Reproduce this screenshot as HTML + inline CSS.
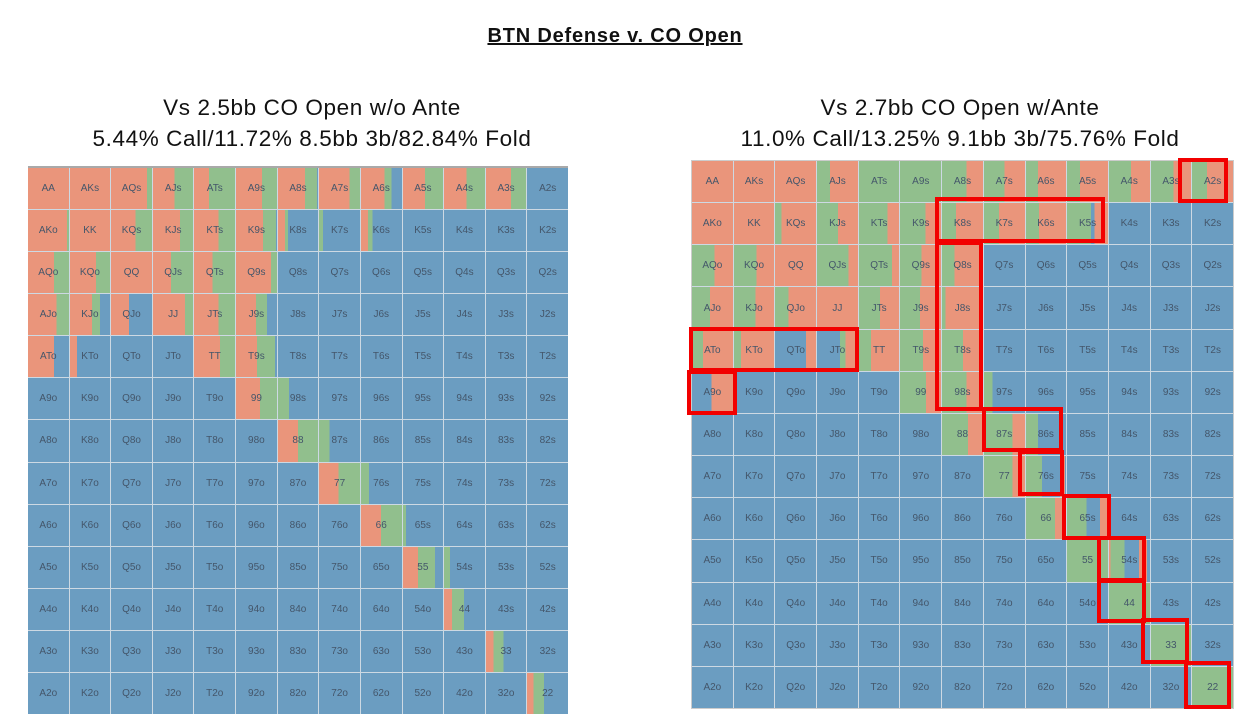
<!DOCTYPE html>
<html><head><meta charset="utf-8"><style>
:root{--r:#ea957b;--g:#91bf8d;--b:#6b9dc1}
body{margin:0;width:1250px;height:709px;background:#fff;position:relative;overflow:hidden;font-family:"Liberation Sans",sans-serif}
.t{position:absolute;left:0;width:1230px;text-align:center;top:25px;font-size:20px;font-weight:bold;text-decoration:underline;color:#111;letter-spacing:0.8px}
.s{position:absolute;text-align:center;font-size:22.5px;line-height:31px;color:#111;width:600px;letter-spacing:0.6px}
.grid{position:absolute;display:grid;grid-template-columns:repeat(13,1fr);grid-template-rows:repeat(13,1fr);gap:1px;background:#cdd9e3}
.grid div{background:var(--b);display:flex;align-items:center;justify-content:center;font-size:10px;color:#44566a}
.grid div.r{background:var(--r)}.grid div.g{background:var(--g)}
#L{left:28px;top:166px;width:540px;height:546px;border-top:2px solid #a9a9a9}
#R{left:691px;top:160px;width:541px;height:547px;border:1px solid #ccc}
.bx{position:absolute;border:4px solid #f20000;box-sizing:border-box}
</style></head><body>
<div class="t">BTN Defense v. CO Open</div>
<div class="s" style="left:12px;top:92px">Vs 2.5bb CO Open w/o Ante<br>5.44% Call/11.72% 8.5bb 3b/82.84% Fold</div>
<div class="s" style="left:660px;top:92px">Vs 2.7bb CO Open w/Ante<br>11.0% Call/13.25% 9.1bb 3b/75.76% Fold</div>

<div class="grid" id="L">
<div class="r">AA</div><div class="r">AKs</div><div style="background:linear-gradient(90deg,var(--r) 88%,var(--g) 0)">AQs</div><div style="background:linear-gradient(90deg,var(--r) 54%,var(--g) 0)">AJs</div><div style="background:linear-gradient(90deg,var(--r) 37%,var(--g) 0)">ATs</div><div style="background:linear-gradient(90deg,var(--r) 63%,var(--g) 0)">A9s</div><div style="background:linear-gradient(90deg,var(--r) 68%,var(--g) 0 97%,var(--b) 0)">A8s</div><div style="background:linear-gradient(90deg,var(--r) 74%,var(--g) 0)">A7s</div><div style="background:linear-gradient(90deg,var(--r) 57%,var(--g) 0 74%,var(--b) 0)">A6s</div><div style="background:linear-gradient(90deg,var(--r) 55%,var(--g) 0)">A5s</div><div style="background:linear-gradient(90deg,var(--r) 55%,var(--g) 0)">A4s</div><div style="background:linear-gradient(90deg,var(--r) 62%,var(--g) 0)">A3s</div><div>A2s</div>
<div style="background:linear-gradient(90deg,var(--r) 95%,var(--g) 0)">AKo</div><div class="r">KK</div><div style="background:linear-gradient(90deg,var(--r) 60%,var(--g) 0)">KQs</div><div style="background:linear-gradient(90deg,var(--r) 67%,var(--g) 0)">KJs</div><div style="background:linear-gradient(90deg,var(--r) 60%,var(--g) 0)">KTs</div><div style="background:linear-gradient(90deg,var(--r) 66%,var(--g) 0 97%,var(--b) 0)">K9s</div><div style="background:linear-gradient(90deg,var(--r) 17%,var(--g) 0 25%,var(--b) 0)">K8s</div><div style="background:linear-gradient(90deg,var(--g) 10%,var(--b) 0)">K7s</div><div style="background:linear-gradient(90deg,var(--r) 17%,var(--g) 0 28%,var(--b) 0)">K6s</div><div>K5s</div><div>K4s</div><div>K3s</div><div>K2s</div>
<div style="background:linear-gradient(90deg,var(--r) 63%,var(--g) 0)">AQo</div><div style="background:linear-gradient(90deg,var(--r) 65%,var(--g) 0)">KQo</div><div class="r">QQ</div><div style="background:linear-gradient(90deg,var(--r) 45%,var(--g) 0)">QJs</div><div style="background:linear-gradient(90deg,var(--r) 45%,var(--g) 0)">QTs</div><div style="background:linear-gradient(90deg,var(--r) 85%,var(--g) 0)">Q9s</div><div>Q8s</div><div>Q7s</div><div>Q6s</div><div>Q5s</div><div>Q4s</div><div>Q3s</div><div>Q2s</div>
<div style="background:linear-gradient(90deg,var(--r) 70%,var(--g) 0)">AJo</div><div style="background:linear-gradient(90deg,var(--r) 55%,var(--g) 0 75%,var(--b) 0)">KJo</div><div style="background:linear-gradient(90deg,var(--r) 44%,var(--b) 0)">QJo</div><div style="background:linear-gradient(90deg,var(--r) 80%,var(--g) 0)">JJ</div><div style="background:linear-gradient(90deg,var(--r) 60%,var(--g) 0)">JTs</div><div style="background:linear-gradient(90deg,var(--r) 49%,var(--g) 0 76%,var(--b) 0)">J9s</div><div>J8s</div><div>J7s</div><div>J6s</div><div>J5s</div><div>J4s</div><div>J3s</div><div>J2s</div>
<div style="background:linear-gradient(90deg,var(--r) 63%,var(--b) 0)">ATo</div><div style="background:linear-gradient(90deg,var(--r) 17%,var(--b) 0)">KTo</div><div>QTo</div><div>JTo</div><div style="background:linear-gradient(90deg,var(--r) 63%,var(--g) 0)">TT</div><div style="background:linear-gradient(90deg,var(--r) 51%,var(--g) 0 95%,var(--b) 0)">T9s</div><div>T8s</div><div>T7s</div><div>T6s</div><div>T5s</div><div>T4s</div><div>T3s</div><div>T2s</div>
<div>A9o</div><div>K9o</div><div>Q9o</div><div>J9o</div><div>T9o</div><div style="background:linear-gradient(90deg,var(--r) 58%,var(--g) 0)">99</div><div style="background:linear-gradient(90deg,var(--g) 27%,var(--b) 0)">98s</div><div>97s</div><div>96s</div><div>95s</div><div>94s</div><div>93s</div><div>92s</div>
<div>A8o</div><div>K8o</div><div>Q8o</div><div>J8o</div><div>T8o</div><div>98o</div><div style="background:linear-gradient(90deg,var(--r) 50%,var(--g) 0)">88</div><div style="background:linear-gradient(90deg,var(--g) 25%,var(--b) 0)">87s</div><div>86s</div><div>85s</div><div>84s</div><div>83s</div><div>82s</div>
<div>A7o</div><div>K7o</div><div>Q7o</div><div>J7o</div><div>T7o</div><div>97o</div><div>87o</div><div style="background:linear-gradient(90deg,var(--r) 47%,var(--g) 0)">77</div><div style="background:linear-gradient(90deg,var(--g) 20%,var(--b) 0)">76s</div><div>75s</div><div>74s</div><div>73s</div><div>72s</div>
<div>A6o</div><div>K6o</div><div>Q6o</div><div>J6o</div><div>T6o</div><div>96o</div><div>86o</div><div>76o</div><div style="background:linear-gradient(90deg,var(--r) 49%,var(--g) 0)">66</div><div style="background:linear-gradient(90deg,var(--g) 8%,var(--b) 0)">65s</div><div>64s</div><div>63s</div><div>62s</div>
<div>A5o</div><div>K5o</div><div>Q5o</div><div>J5o</div><div>T5o</div><div>95o</div><div>85o</div><div>75o</div><div>65o</div><div style="background:linear-gradient(90deg,var(--r) 38%,var(--g) 0 80%,var(--b) 0)">55</div><div style="background:linear-gradient(90deg,var(--g) 15%,var(--b) 0)">54s</div><div>53s</div><div>52s</div>
<div>A4o</div><div>K4o</div><div>Q4o</div><div>J4o</div><div>T4o</div><div>94o</div><div>84o</div><div>74o</div><div>64o</div><div>54o</div><div style="background:linear-gradient(90deg,var(--r) 20%,var(--g) 0 49%,var(--b) 0)">44</div><div>43s</div><div>42s</div>
<div>A3o</div><div>K3o</div><div>Q3o</div><div>J3o</div><div>T3o</div><div>93o</div><div>83o</div><div>73o</div><div>63o</div><div>53o</div><div>43o</div><div style="background:linear-gradient(90deg,var(--r) 19%,var(--g) 0 44%,var(--b) 0)">33</div><div>32s</div>
<div>A2o</div><div>K2o</div><div>Q2o</div><div>J2o</div><div>T2o</div><div>92o</div><div>82o</div><div>72o</div><div>62o</div><div>52o</div><div>42o</div><div>32o</div><div style="background:linear-gradient(90deg,var(--r) 16%,var(--g) 0 42%,var(--b) 0)">22</div>
</div>

<div class="grid" id="R">
<div class="r">AA</div><div class="r">AKs</div><div class="r">AQs</div><div style="background:linear-gradient(90deg,var(--g) 32%,var(--r) 0)">AJs</div><div class="g">ATs</div><div class="g">A9s</div><div style="background:linear-gradient(90deg,var(--g) 60%,var(--r) 0)">A8s</div><div style="background:linear-gradient(90deg,var(--g) 50%,var(--r) 0)">A7s</div><div style="background:linear-gradient(90deg,var(--g) 30%,var(--r) 0)">A6s</div><div style="background:linear-gradient(90deg,var(--g) 32%,var(--r) 0)">A5s</div><div style="background:linear-gradient(90deg,var(--g) 54%,var(--r) 0)">A4s</div><div style="background:linear-gradient(90deg,var(--g) 56%,var(--r) 0)">A3s</div><div style="background:linear-gradient(90deg,var(--g) 36%,var(--r) 0)">A2s</div>
<div class="r">AKo</div><div class="r">KK</div><div style="background:linear-gradient(90deg,var(--g) 16%,var(--r) 0)">KQs</div><div style="background:linear-gradient(90deg,var(--g) 51%,var(--r) 0)">KJs</div><div style="background:linear-gradient(90deg,var(--g) 71%,var(--r) 0)">KTs</div><div style="background:linear-gradient(90deg,var(--g) 62%,var(--r) 0)">K9s</div><div style="background:linear-gradient(90deg,var(--g) 34%,var(--r) 0)">K8s</div><div style="background:linear-gradient(90deg,var(--g) 37%,var(--r) 0)">K7s</div><div style="background:linear-gradient(90deg,var(--g) 32%,var(--r) 0)">K6s</div><div style="background:linear-gradient(90deg,var(--g) 58%,var(--b) 0 67%,var(--r) 0)">K5s</div><div>K4s</div><div>K3s</div><div>K2s</div>
<div style="background:linear-gradient(90deg,var(--g) 55%,var(--r) 0)">AQo</div><div style="background:linear-gradient(90deg,var(--g) 56%,var(--r) 0)">KQo</div><div class="r">QQ</div><div style="background:linear-gradient(90deg,var(--g) 77%,var(--r) 0)">QJs</div><div style="background:linear-gradient(90deg,var(--g) 82%,var(--r) 0)">QTs</div><div style="background:linear-gradient(90deg,var(--g) 53%,var(--r) 0)">Q9s</div><div style="background:linear-gradient(90deg,var(--g) 30%,var(--r) 0)">Q8s</div><div>Q7s</div><div>Q6s</div><div>Q5s</div><div>Q4s</div><div>Q3s</div><div>Q2s</div>
<div style="background:linear-gradient(90deg,var(--g) 44%,var(--r) 0)">AJo</div><div style="background:linear-gradient(90deg,var(--g) 54%,var(--r) 0)">KJo</div><div style="background:linear-gradient(90deg,var(--g) 33%,var(--r) 0)">QJo</div><div class="r">JJ</div><div style="background:linear-gradient(90deg,var(--g) 52%,var(--r) 0)">JTs</div><div style="background:linear-gradient(90deg,var(--g) 49%,var(--r) 0)">J9s</div><div style="background:linear-gradient(90deg,var(--g) 9%,var(--r) 0)">J8s</div><div>J7s</div><div>J6s</div><div>J5s</div><div>J4s</div><div>J3s</div><div>J2s</div>
<div style="background:linear-gradient(90deg,var(--g) 27%,var(--r) 0)">ATo</div><div style="background:linear-gradient(90deg,var(--g) 18%,var(--r) 0)">KTo</div><div style="background:linear-gradient(90deg,var(--b) 75%,var(--r) 0)">QTo</div><div style="background:linear-gradient(90deg,var(--b) 56%,var(--g) 0 70%,var(--r) 0)">JTo</div><div style="background:linear-gradient(90deg,var(--g) 30%,var(--r) 0)">TT</div><div style="background:linear-gradient(90deg,var(--g) 56%,var(--r) 0)">T9s</div><div style="background:linear-gradient(90deg,var(--g) 51%,var(--r) 0)">T8s</div><div>T7s</div><div>T6s</div><div>T5s</div><div>T4s</div><div>T3s</div><div>T2s</div>
<div style="background:linear-gradient(90deg,var(--b) 47%,var(--r) 0)">A9o</div><div>K9o</div><div>Q9o</div><div>J9o</div><div>T9o</div><div style="background:linear-gradient(90deg,var(--g) 64%,var(--r) 0)">99</div><div style="background:linear-gradient(90deg,var(--g) 60%,var(--r) 0)">98s</div><div style="background:linear-gradient(90deg,var(--g) 21%,var(--b) 0)">97s</div><div>96s</div><div>95s</div><div>94s</div><div>93s</div><div>92s</div>
<div>A8o</div><div>K8o</div><div>Q8o</div><div>J8o</div><div>T8o</div><div>98o</div><div style="background:linear-gradient(90deg,var(--g) 64%,var(--r) 0)">88</div><div style="background:linear-gradient(90deg,var(--g) 69%,var(--r) 0)">87s</div><div style="background:linear-gradient(90deg,var(--g) 30%,var(--b) 0)">86s</div><div>85s</div><div>84s</div><div>83s</div><div>82s</div>
<div>A7o</div><div>K7o</div><div>Q7o</div><div>J7o</div><div>T7o</div><div>97o</div><div>87o</div><div style="background:linear-gradient(90deg,var(--g) 70%,var(--r) 0)">77</div><div style="background:linear-gradient(90deg,var(--g) 40%,var(--b) 0 85%,var(--r) 0 97%,var(--b) 0)">76s</div><div>75s</div><div>74s</div><div>73s</div><div>72s</div>
<div>A6o</div><div>K6o</div><div>Q6o</div><div>J6o</div><div>T6o</div><div>96o</div><div>86o</div><div>76o</div><div style="background:linear-gradient(90deg,var(--g) 73%,var(--r) 0)">66</div><div style="background:linear-gradient(90deg,var(--g) 47%,var(--b) 0 81%,var(--r) 0 97%,var(--b) 0)">65s</div><div>64s</div><div>63s</div><div>62s</div>
<div>A5o</div><div>K5o</div><div>Q5o</div><div>J5o</div><div>T5o</div><div>95o</div><div>85o</div><div>75o</div><div>65o</div><div class="g">55</div><div style="background:linear-gradient(90deg,var(--r) 4%,var(--g) 0 38%,var(--b) 0 73%,var(--r) 0 93%,var(--b) 0)">54s</div><div>53s</div><div>52s</div>
<div>A4o</div><div>K4o</div><div>Q4o</div><div>J4o</div><div>T4o</div><div>94o</div><div>84o</div><div>74o</div><div>64o</div><div>54o</div><div class="g">44</div><div>43s</div><div>42s</div>
<div>A3o</div><div>K3o</div><div>Q3o</div><div>J3o</div><div>T3o</div><div>93o</div><div>83o</div><div>73o</div><div>63o</div><div>53o</div><div>43o</div><div class="g">33</div><div>32s</div>
<div>A2o</div><div>K2o</div><div>Q2o</div><div>J2o</div><div>T2o</div><div>92o</div><div>82o</div><div>72o</div><div>62o</div><div>52o</div><div>42o</div><div>32o</div><div class="g">22</div>
</div>

<div class="bx" style="left:1178px;top:158px;width:50px;height:45px"></div>
<div class="bx" style="left:935px;top:197px;width:170px;height:46px"></div>
<div class="bx" style="left:935px;top:241px;width:48px;height:170px"></div>
<div class="bx" style="left:689px;top:327px;width:170px;height:45px"></div>
<div class="bx" style="left:687px;top:370px;width:50px;height:45px"></div>
<div class="bx" style="left:982px;top:407px;width:81px;height:45px"></div>
<div class="bx" style="left:1018px;top:450px;width:46px;height:46px"></div>
<div class="bx" style="left:1062px;top:494px;width:49px;height:46px"></div>
<div class="bx" style="left:1097px;top:536px;width:49px;height:46px"></div>
<div class="bx" style="left:1097px;top:579px;width:49px;height:44px"></div>
<div class="bx" style="left:1141px;top:618px;width:48px;height:46px"></div>
<div class="bx" style="left:1184px;top:661px;width:47px;height:48px"></div>
</body></html>
